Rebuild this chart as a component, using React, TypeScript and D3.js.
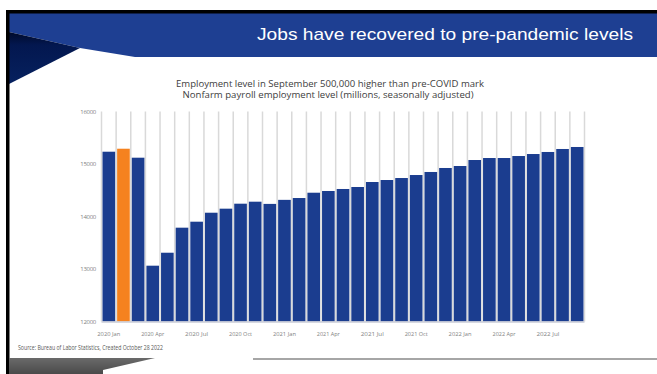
import React from "react";
import * as d3 from "d3";

const months: string[] = [
  "2020-01","2020-02","2020-03","2020-04","2020-05","2020-06","2020-07","2020-08","2020-09","2020-10","2020-11","2020-12",
  "2021-01","2021-02","2021-03","2021-04","2021-05","2021-06","2021-07","2021-08","2021-09","2021-10","2021-11","2021-12",
  "2022-01","2022-02","2022-03","2022-04","2022-05","2022-06","2022-07","2022-08","2022-09",
];
const values: number[] = [
  15234, 15291, 15120, 13063, 13310, 13787, 13901, 14072, 14149, 14244, 14282, 14240,
  14317, 14352, 14453, 14486, 14524, 14562, 14657, 14695, 14733, 14790, 14848, 14924,
  14962, 15076, 15114, 15114, 15152, 15190, 15229, 15286, 15324,
];
const highlightMonth = "2020-02";
const xTickMonths: string[] = ["2020-01","2020-04","2020-07","2020-10","2021-01","2021-04","2021-07","2021-10","2022-01","2022-04","2022-07"];
const xTickLabels: string[] = ["2020 Jan","2020 Apr","2020 Jul","2020 Oct","2021 Jan","2021 Apr","2021 Jul","2021 Oct","2022 Jan","2022 Apr","2022 Jul"];
const yTicks: number[] = [12000, 13000, 14000, 15000, 16000];
const titleText = "Jobs have recovered to pre-pandemic levels";
const subtitle1 = "Employment level in September 500,000 higher than pre-COVID mark";
const subtitle2 = "Nonfarm payroll employment level (millions, seasonally adjusted)";
const sourceText = "Source: Bureau of Labor Statistics, Created October 28 2022";

const W = 657;
const H = 374;
const plot = { left: 101.5, right: 584.5, top: 111.5, bottom: 321.5 };

export default function App() {
  const x = d3.scaleBand<string>().domain(months).range([plot.left, plot.right]).paddingInner(0).paddingOuter(0);
  const y = d3.scaleLinear().domain([12000, 16000]).range([plot.bottom, plot.top]);
  const step = x.step();
  const boundaries = d3.range(months.length + 1).map((i) => plot.left + i * step);
  const blue = "#1b3d8f";
  const font = "'Liberation Sans', Arial, sans-serif";
  const labelFont = "'Open Sans', 'Liberation Sans', sans-serif";

  return (
    <svg width={W} height={H} style={{ position: "absolute", left: 0, top: 0, display: "block" }}>
      <defs>
        <linearGradient id="navyShade" x1="0" y1="0" x2="0" y2="1">
          <stop offset="0" stopColor="#000a2a" />
          <stop offset="0.25" stopColor="#03174f" />
          <stop offset="1" stopColor="#06215f" />
        </linearGradient>
        <linearGradient id="grayBar" x1="0" y1="0" x2="0" y2="1">
          <stop offset="0" stopColor="#6a6a6a" />
          <stop offset="1" stopColor="#4a4a4a" />
        </linearGradient>
      </defs>
      <rect x={0} y={0} width={W} height={H} fill="#ffffff" />
      {/* header */}
      <polygon points={`9,13 ${W},13 ${W},57 135,57 80,48 9,32`} fill="#1e3f92" />
      <polygon points="9,32 80,48 9,84" fill="url(#navyShade)" />
      {/* black frame */}
      <rect x={6} y={10} width={W - 6} height={3.5} fill="#000" />
      <rect x={6} y={10} width={3.5} height={H - 10} fill="#000" />
      <text x={633} y={40} textAnchor="end" fill="#ffffff" fontFamily={font} fontSize={17} textLength={376} lengthAdjust="spacingAndGlyphs">{titleText}</text>

      {/* subtitles */}
      <text x={330} y={86.5} textAnchor="middle" fill="#404040" fontFamily={labelFont} fontSize={9.5} textLength={308} lengthAdjust="spacingAndGlyphs">{subtitle1}</text>
      <text x={328} y={98} textAnchor="middle" fill="#404040" fontFamily={labelFont} fontSize={9.5} textLength={291} lengthAdjust="spacingAndGlyphs">{subtitle2}</text>

      {/* vertical separators */}
      {boundaries.map((bx, i) => (
        <line key={"g" + i} x1={bx} x2={bx} y1={plot.top} y2={plot.bottom} stroke="#d9d9d9" strokeWidth={1.5} />
      ))}
      {/* bars */}
      {months.map((m, i) => (
        <rect
          key={m}
          x={(x(m) as number) + 1}
          y={y(values[i])}
          width={step - 2}
          height={plot.bottom - y(values[i])}
          fill={m === highlightMonth ? "#f5821f" : blue}
        />
      ))}
      {/* x-axis baseline */}
      <line x1={plot.left} x2={plot.right} y1={plot.bottom + 0.5} y2={plot.bottom + 0.5} stroke="#c8cbd6" strokeWidth={1.5} />

      {/* y labels */}
      {yTicks.map((t) => (
        <text key={t} x={96} y={y(t) + 2} textAnchor="end" fill="#7f7f7f" fontFamily={labelFont} fontSize={6} letterSpacing={-0.3}>{String(t)}</text>
      ))}
      {/* x labels */}
      {xTickMonths.map((m, i) => (
        <text key={m} x={(x(m) as number) + step / 2} y={335.5} textAnchor="middle" fill="#7f7f7f" fontFamily={labelFont} fontSize={6} textLength={23} lengthAdjust="spacingAndGlyphs">{xTickLabels[i]}</text>
      ))}

      {/* source */}
      <text x={18} y={350} fill="#595959" fontFamily={labelFont} fontSize={6.3} textLength={145} lengthAdjust="spacingAndGlyphs">{sourceText}</text>

      {/* footer */}
      <polygon points={`9,358 155,358 103,370 103,${H} 9,${H}`} fill="url(#grayBar)" />
      <line x1={253} x2={W} y1={359} y2={359} stroke="#a6a6a6" strokeWidth={2} />
    </svg>
  );
}
